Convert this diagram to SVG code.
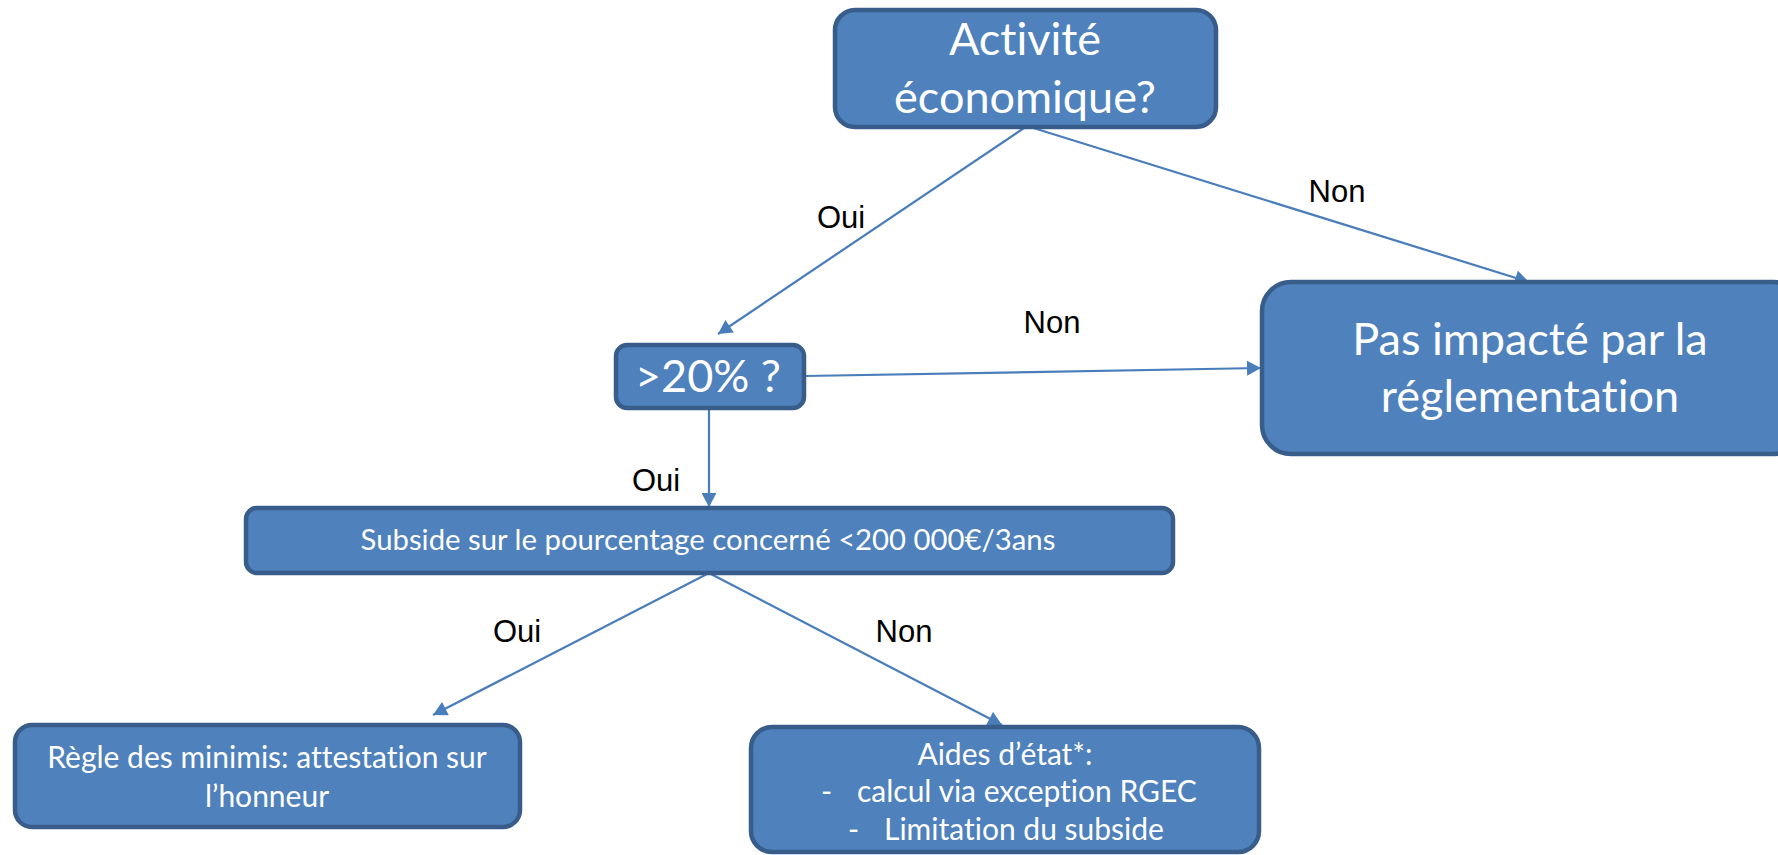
<svg xmlns="http://www.w3.org/2000/svg" width="1778" height="855" viewBox="0 0 1778 855">
<defs>
<style>
.box{fill:#4F81BD;stroke:#385D8A;stroke-width:4.5}
.t{font-family:Lato,"Open Sans","Liberation Sans",sans-serif;fill:#FFFFFF;text-anchor:middle;font-variant-ligatures:none}
.ts{font-family:Lato,"Open Sans","Liberation Sans",sans-serif;fill:#FFFFFF;text-anchor:start;font-size:30px;font-variant-ligatures:none}
.big{font-size:45px}
.small{font-size:30px}
.lbl{font-family:"Liberation Sans",Arial,sans-serif;font-size:31px;fill:#000000;text-anchor:middle}
.c{stroke:#4A7EBB;stroke-width:2.25;fill:none}
</style>
<marker id="ah" markerWidth="15" markerHeight="15" viewBox="0 0 14 15" refX="14" refY="7.5" orient="auto" markerUnits="userSpaceOnUse">
<path d="M0,0 L14,7.5 L0,15 Z" fill="#4A7EBB"/>
</marker>
</defs>
<rect width="1778" height="855" fill="#FFFFFF"/>
<g id="connectors">
<line class="c" x1="1027" y1="126" x2="718" y2="334" marker-end="url(#ah)"/>
<line class="c" x1="1027" y1="126" x2="1529" y2="282" marker-end="url(#ah)"/>
<line class="c" x1="805" y1="376" x2="1261" y2="368" marker-end="url(#ah)"/>
<line class="c" x1="709" y1="410" x2="709" y2="507" marker-end="url(#ah)"/>
<line class="c" x1="709" y1="573" x2="433" y2="715" marker-end="url(#ah)"/>
<line class="c" x1="709" y1="573" x2="1002" y2="725" marker-end="url(#ah)"/>
<text class="lbl" x="841" y="228">Oui</text>
<text class="lbl" x="1337" y="202">Non</text>
<text class="lbl" x="1052" y="333">Non</text>
<text class="lbl" x="656" y="491">Oui</text>
<text class="lbl" x="517" y="642">Oui</text>
<text class="lbl" x="904" y="642">Non</text>
</g>
<g id="n-activite">
<rect class="box" x="835" y="10" width="381" height="117" rx="20"/>
<text class="t big" x="1025" y="55">Activité</text>
<text class="t big" x="1025" y="113">économique?</text>
</g>
<g id="n-20">
<rect class="box" x="616" y="345" width="188" height="63" rx="11"/>
<text class="t big" x="708" y="392">&gt;20% ?</text>
</g>
<g id="n-pas">
<rect class="box" x="1262" y="282" width="540" height="172" rx="29"/>
<text class="t big" x="1530" y="355">Pas impacté par la</text>
<text class="t big" x="1530" y="412">réglementation</text>
</g>
<g id="n-subside">
<rect class="box" x="246" y="508" width="927" height="65" rx="11"/>
<text class="t" style="font-size:29.3px" x="708" y="550">Subside sur le pourcentage concerné &lt;200 000€/3ans</text>
</g>
<g id="n-regle">
<rect class="box" x="15" y="725" width="505" height="102" rx="17"/>
<text class="t small" x="267" y="768">Règle des minimis: attestation sur</text>
<text class="t small" x="267" y="807">l’honneur</text>
</g>
<g id="n-aides">
<rect class="box" x="751" y="727" width="508" height="125" rx="21"/>
<text class="t small" x="1005" y="765">Aides d’état*:</text>
<text class="ts" x="821" y="802">-</text>
<text class="ts" x="857" y="802">calcul via exception RGEC</text>
<text class="ts" x="848" y="840">-</text>
<text class="ts" x="884" y="840">Limitation du subside</text>
</g>
</svg>
